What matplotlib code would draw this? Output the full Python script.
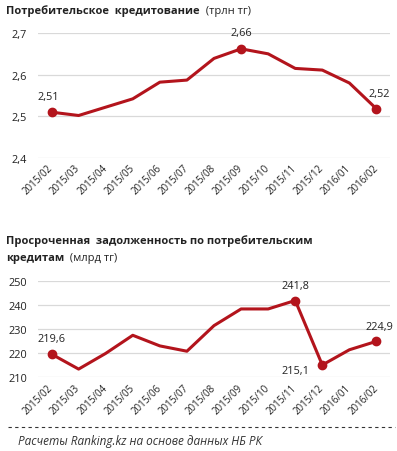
import matplotlib
matplotlib.use("Agg")
import matplotlib.pyplot as plt
from matplotlib.lines import Line2D

plt.rcParams["font.family"] = ["Open Sans", "DejaVu Sans"]

months = ["2015/02", "2015/03", "2015/04", "2015/05", "2015/06", "2015/07",
          "2015/08", "2015/09", "2015/10", "2015/11", "2015/12", "2016/01",
          "2016/02"]

# consumer lending, trillion tenge
credit = [2.51, 2.502, 2.522, 2.542, 2.582, 2.587, 2.639, 2.662, 2.650,
          2.615, 2.611, 2.580, 2.518]
credit_marked = {0: "2,51", 7: "2,66", 12: "2,52"}

# overdue consumer debt, billion tenge
overdue = [219.6, 213.4, 219.9, 227.4, 223.0, 220.8, 231.4, 238.3, 238.3,
           241.8, 215.1, 221.4, 224.9]
overdue_marked = {0: "219,6", 9: "241,8", 10: "215,1", 12: "224,9"}

RED = "#B3141C"
GRID = "#D9D9D9"
TXT = "#222222"

W, H = 397, 452


def setup_axes(ax, ylim, yticks, ylabels):
    ax.set_xlim(-0.5, len(months) - 0.5)
    ax.set_ylim(*ylim)
    ax.set_yticks(yticks)
    ax.set_yticklabels(ylabels, fontsize=7.8, color=TXT)
    ax.set_xticks(range(len(months)))
    ax.set_xticklabels(months, rotation=45, ha="right", va="center",
                       rotation_mode="anchor", fontsize=7, color=TXT)
    ax.tick_params(length=0, pad=6)
    ax.tick_params(axis="y", pad=8)
    for s in ax.spines.values():
        s.set_visible(False)
    ax.grid(axis="y", color=GRID, lw=0.9)
    ax.set_axisbelow(True)


def draw_series(ax, vals, marked, offsets):
    x = list(range(len(vals)))
    ax.plot(x, vals, color=RED, lw=2.2, solid_joinstyle="round", zorder=3)
    for i, lab in marked.items():
        ax.plot(i, vals[i], "o", color=RED, ms=6, zorder=4)
        dx, dy, ha = offsets.get(i, (0, 10, "center"))
        ax.annotate(lab, (i, vals[i]), xytext=(dx, dy),
                    textcoords="offset points", ha=ha, va="bottom",
                    fontsize=7.8, color=TXT)


fig = plt.figure(figsize=(W / 100, H / 100), dpi=100)

# top chart
ax1 = fig.add_axes([38 / W, 1 - 159 / H, 352 / W, 125 / H])
setup_axes(ax1, (2.4, 2.7), [2.4, 2.5, 2.6, 2.7], ["2,4", "2,5", "2,6", "2,7"])
draw_series(ax1, credit, credit_marked,
            {0: (-2, 7, "center"), 7: (0, 8, "center"), 12: (2, 7, "center")})

# bottom chart
ax2 = fig.add_axes([38 / W, 1 - 378.3 / H, 352 / W, 96.6 / H])
setup_axes(ax2, (210, 250), [210, 220, 230, 240, 250],
           ["210", "220", "230", "240", "250"])
draw_series(ax2, overdue, overdue_marked,
            {0: (0, 7, "center"), 9: (0, 7, "center"), 10: (-9, -8, "right"),
             12: (2, 7, "center")})

# titles: bold part + regular units
t1 = fig.text(6 / W, 1 - 14 / H, "Потребительское  кредитование",
              fontsize=8, fontweight="bold", color=TXT, va="baseline")
fig.add_artist(plt.Annotation("  (трлн тг)", xy=(1, 0), xycoords=t1,
                              va="bottom", fontsize=8, color=TXT,
                              annotation_clip=False))

fig.text(6 / W, 1 - 244 / H, "Просроченная  задолженность по потребительским",
         fontsize=8, fontweight="bold", color=TXT, va="baseline")
t2 = fig.text(6 / W, 1 - 261 / H, "кредитам", fontsize=8, fontweight="bold",
              color=TXT, va="baseline")
fig.add_artist(plt.Annotation("  (млрд тг)", xy=(1, 0), xycoords=t2,
                              va="bottom", fontsize=8, color=TXT,
                              annotation_clip=False))

# source line
fig.add_artist(Line2D([8 / W, 395 / W], [1 - 428 / H, 1 - 428 / H],
                      transform=fig.transFigure, color="#333333", lw=0.8,
                      ls=(0, (3, 3))))
fig.text(18 / W, 1 - 442 / H, "Расчеты Ranking.kz на основе данных НБ РК",
         fontsize=8.5, style="italic", color="#333333", va="center")

fig.savefig("out.png", dpi=100, facecolor="white")
